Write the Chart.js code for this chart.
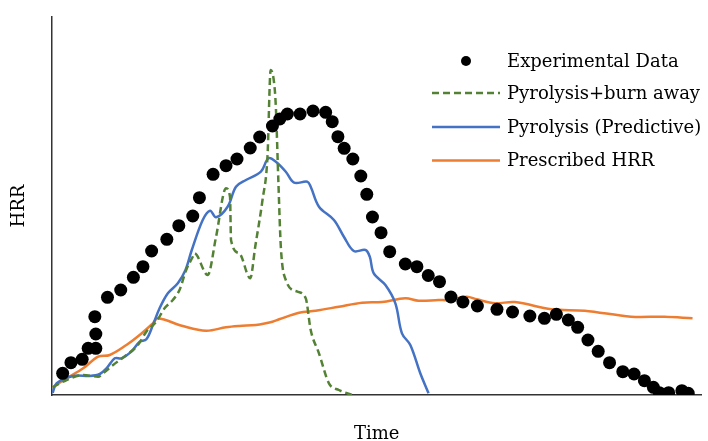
<!DOCTYPE html>
<html><head><meta charset="utf-8">
<script src="https://cdn.jsdelivr.net/npm/chart.js@4.4.1/dist/chart.umd.min.js"></script>
<style>html,body{margin:0;padding:0;background:#fff;}#wrap{width:708px;height:441px;}</style>
</head><body><div id="wrap"><canvas id="c" width="708" height="441"></canvas></div>
<script>
// Series labels
const seriesLabels = ["Experimental Data", "Pyrolysis+burn away", "Pyrolysis (Predictive)", "Prescribed HRR"];
const axisTitles = { x: "Time", y: "HRR" };

const expTime = [10.7,19,30.3,36.3,44,44,43,55.7,69,81.7,91.3,100,115.3,127.3,141.3,148,161.7,174.7,185.7,199,208.5,221.3,228.7,236.3,249,262,274.7,281.3,287,293.3,302,310,316,321.7,330.3,339,354.7,366.3,377.7,389,400.5,412.5,427,446.7,462.3,479.7,494.3,506.3,518.3,527.7,538,548.3,559.7,573,584.3,594.7,603.7,609.7,619,632.3,638.7];
const expHRR  = [21.7,32.3,35.7,46.7,46.7,61,78.3,97.7,105,117.7,128.3,144,155.7,169.3,179,197.3,220.7,229.3,236,247,258,269,276,281,281,284,282.7,273.3,258.3,246.7,236,219,200.7,178,162.3,143.3,131,128.3,119.5,113.3,98,93,89,85.7,83,79,76.7,80.7,75,67.7,55,43.7,32.3,23.3,21,14.3,7.7,2.3,2.3,4.3,1.7];

// Pyrolysis+burn away
const burnTime = [0.7,14.7,31.3,46.3,51.3,61.3,74.7,86.3,94.7,104.7,113,121.3,128,134.7,141.3,143,156.3,164.7,174.7,178.7,179.7,188,199,204,211.3,216.3,219.5,223,224.7,227.3,229.7,234.7,246.3,254.7,259.7,268,278,288,301.3];
const burnHRR  = [7.7,15,20,18.3,21.7,30,40,50,63.3,73.3,86.7,95,105,125,138.3,141.7,120,158.3,206.7,198.3,155,141.7,116.7,148.3,195,238.3,325,311.7,288.3,211.7,148.3,115,103.3,96.7,65,41.7,11.7,5,0];

// Pyrolysis (Predictive)
const predTime = [0.7,4.7,21.3,38,48,54.7,63,69.7,79.7,88,94.7,101.3,108,116.3,126.3,134,140,151.3,158.7,164.7,176.3,184.7,194.7,209.7,217.3,224.7,234.7,243,256.3,259.7,268,283,293,303,314.7,319,323,334.7,344.7,351.3,359.7,369.7,378];
const predHRR  = [2.3,11.7,19,19,21,26.7,36.7,36.7,43.3,53.3,55.7,70,86.7,101.7,111.7,125,144,175,184.3,177.7,188.3,208.3,215,223.3,236.7,233.3,223.3,212.3,213.3,208.3,188.3,175,158.3,144,145,138.3,121.7,110,91.7,61.7,50,21.7,1.7];

// Prescribed HRR
const presTime = [0.7,14.7,31.3,46.3,58,74.7,88,101.3,106.3,131.3,154.7,174.7,188,204.7,214.7,221.3,228,248,264.7,288,311.3,331.3,354.7,368,388,398,416.3,426.3,444.7,464.7,501.3,534.7,581.3,614.7,643];
const presHRR  = [7.7,16.7,26.7,38.3,40,50,60,71.7,76.7,69,64.3,67.7,69,70,71.7,73.3,75.7,82.3,84.3,88.3,92.3,93,96.7,94.3,95,95,98.3,95.7,91.7,93,85.7,84.3,78.3,78.3,76.7];

const toPts = (xs, ys) => xs.map((x, i) => ({ x: x, y: ys[i] }));

const FONT = '"DejaVu Serif", serif';

const sideLegend = {
  id: 'sideLegend',
  afterDraw(chart) {
    const ctx = chart.ctx;
    const rows = [61, 93, 127, 160.5];
    ctx.save();
    ctx.font = '18px ' + FONT;
    ctx.textBaseline = 'middle';
    ctx.textAlign = 'left';
    chart.data.datasets.forEach((ds, i) => {
      const y = rows[i];
      if (ds.showLine === false) {
        ctx.beginPath();
        ctx.fillStyle = ds.backgroundColor;
        ctx.arc(466, y, 5, 0, Math.PI * 2);
        ctx.fill();
      } else {
        ctx.beginPath();
        ctx.strokeStyle = ds.borderColor;
        ctx.lineWidth = ds.borderWidth;
        ctx.setLineDash(ds.borderDash || []);
        ctx.moveTo(432, y);
        ctx.lineTo(500, y);
        ctx.stroke();
        ctx.setLineDash([]);
      }
      ctx.fillStyle = '#000';
      ctx.fillText(ds.label, 507, y + 1);
    });
    ctx.restore();
  }
};

new Chart(document.getElementById('c'), {
  type: 'scatter',
  data: {
    datasets: [
      { label: seriesLabels[0], data: toPts(expTime, expHRR), showLine: false,
        pointRadius: 6.5, pointHoverRadius: 6.5, backgroundColor: '#000', borderColor: '#000', borderWidth: 0 },
      { label: seriesLabels[1], data: toPts(burnTime, burnHRR), showLine: true, pointRadius: 0,
        borderColor: '#548235', backgroundColor: '#548235', borderWidth: 2.5, borderDash: [7, 4],
        cubicInterpolationMode: 'monotone' },
      { label: seriesLabels[2], data: toPts(predTime, predHRR), showLine: true, pointRadius: 0,
        borderColor: '#4472C4', backgroundColor: '#4472C4', borderWidth: 2.5,
        tension: 0.35 },
      { label: seriesLabels[3], data: toPts(presTime, presHRR), showLine: true, pointRadius: 0,
        borderColor: '#ED7D31', backgroundColor: '#ED7D31', borderWidth: 2.5,
        tension: 0.35 }
    ]
  },
  options: {
    responsive: false,
    animation: false,
    devicePixelRatio: 1,
    layout: { padding: { top: 17, right: 4, left: 0, bottom: 0 } },
    plugins: { legend: { display: false }, tooltip: { enabled: false } },
    scales: {
      x: {
        type: 'linear', min: 0, max: 652,
        ticks: { display: false }, grid: { display: false },
        border: { display: true, color: '#333', width: 1.5 },
        title: { display: true, text: axisTitles.x, color: '#000', font: { family: FONT, size: 18 }, padding: { top: 0, bottom: -4 } },
        afterFit: s => { s.height = 46; }
      },
      y: {
        type: 'linear', min: 0, max: 378,
        ticks: { display: false }, grid: { display: false },
        border: { display: true, color: '#333', width: 1.5 },
        title: { display: true, text: axisTitles.y, color: '#000', font: { family: FONT, size: 18 }, padding: { top: 9, bottom: 0 } },
        afterFit: s => { s.width = 52; }
      }
    }
  },
  plugins: [sideLegend]
});
</script>
</body></html>
